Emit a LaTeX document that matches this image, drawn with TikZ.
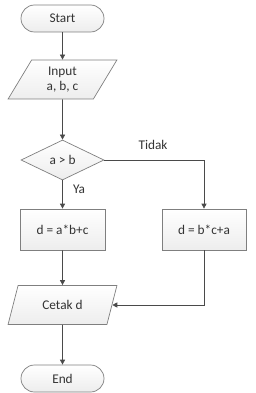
\documentclass[tikz,border=0pt]{standalone}
\usepackage{fontspec}
\setmainfont{Carlito}
\usetikzlibrary{shapes.geometric,arrows.meta}
\definecolor{edge}{HTML}{7F7F7F}
\definecolor{linec}{HTML}{4A4A4A}
\definecolor{txt}{HTML}{333333}
\begin{document}
\begin{tikzpicture}[x=1pt,y=-1pt,
  base/.style={draw=edge,line width=0.7pt,top color=white,bottom color=gray!14,text=txt,font=\fontsize{13.3}{14.5}\selectfont,align=center,inner sep=0pt},
  term/.style={base,rectangle,rounded corners=13.5pt,minimum width=83pt,minimum height=27pt},
  io/.style={base,trapezium,trapezium left angle=64,trapezium right angle=116,trapezium stretches=true,minimum width=109pt,minimum height=39pt},
  proc/.style={base,rectangle,minimum width=85pt,minimum height=41pt},
  dec/.style={base,diamond,minimum width=83pt,minimum height=40pt},
  conn/.style={draw=linec,line width=0.7pt,-{Triangle[length=5pt,width=5pt]}},
  lbl/.style={text=txt,font=\fontsize{13.3}{14.5}\selectfont,inner sep=0pt}]
\useasboundingbox (0,0) rectangle (256,393);
\node[term] (start) at (62.5,18.5) {Start};
\node[io] (input) at (62.5,79.5) {Input\\a, b, c};
\node[dec] (cmp) at (62.5,160) {a > b};
\node[proc] (p1) at (62.5,229.5) {d = a*b+c};
\node[proc,minimum width=84pt] (p2) at (204,229.5) {d = b*c+a};
\node[io] (out) at (62.5,305) {Cetak d};
\node[term] (end) at (62.5,378.5) {End};
\node[lbl] (tidak) at (153,145) {Tidak};
\node[lbl] (ya) at (79,189) {Ya};
\draw[conn] (start) -- (input);
\draw[conn] (input) -- (cmp);
\draw[conn] (cmp) -- (p1);
\draw[conn] (cmp.east) -| (p2.north);
\draw[conn] (p1) -- (out);
\draw[conn] (p2.south) |- (out.east);
\draw[conn] (out) -- (end);
\end{tikzpicture}
\end{document}
